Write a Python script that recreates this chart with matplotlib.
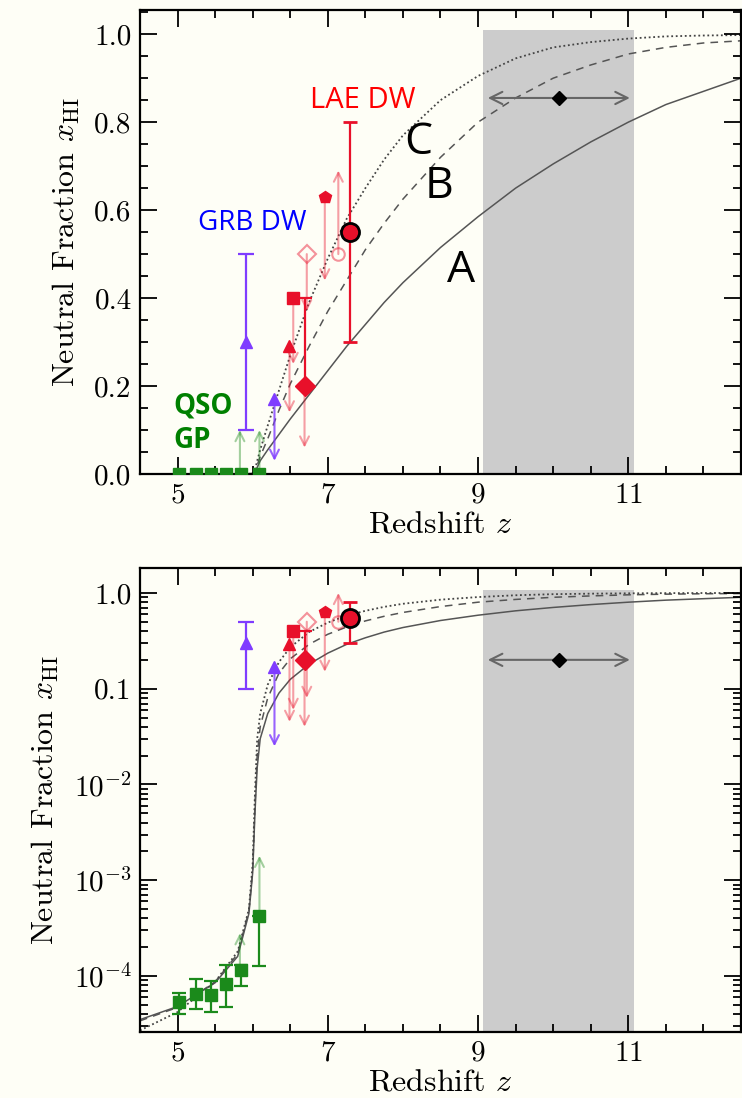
import matplotlib
matplotlib.use('Agg')
import matplotlib.pyplot as plt
from matplotlib.ticker import MultipleLocator, LogLocator, NullFormatter, FormatStrFormatter

plt.rcParams['font.family'] = 'serif'
plt.rcParams['font.serif'] = ['cmr10']
plt.rcParams['mathtext.fontset'] = 'cm'
plt.rcParams['axes.unicode_minus'] = False
plt.rcParams['axes.formatter.use_mathtext'] = True

# model curves A (solid), B (dashed), C (dotted)
z_model = [4.5, 5.0, 5.5, 5.8, 5.95, 6.0, 6.03, 6.06, 6.1, 6.2, 6.35, 6.5, 6.75, 7.0, 7.25,
           7.5, 7.75, 8.0, 8.5, 9.0, 9.5, 10.0, 10.5, 11.0, 11.5, 12.0, 12.5]
x_A = [3.5e-5, 4.8e-5, 8.5e-5, 1.6e-4, 4.5e-4, 1.2e-3, 5e-3, 0.015, 0.03, 0.055, 0.09, 0.125,
       0.18, 0.235, 0.29, 0.34, 0.39, 0.435, 0.515, 0.585, 0.65, 0.705, 0.755, 0.80, 0.84,
       0.87, 0.90]
x_B = [3.4e-5, 4.7e-5, 8.7e-5, 1.7e-4, 4.8e-4, 1.3e-3, 6e-3, 0.02, 0.04, 0.08, 0.145, 0.205,
       0.29, 0.37, 0.44, 0.51, 0.57, 0.625, 0.72, 0.80, 0.855, 0.90, 0.93, 0.955, 0.97,
       0.98, 0.985]
x_C = [2.7e-5, 4.2e-5, 8.7e-5, 1.8e-4, 5.0e-4, 1.5e-3, 8e-3, 0.03, 0.055, 0.11, 0.19, 0.27,
       0.39, 0.49, 0.58, 0.65, 0.715, 0.77, 0.85, 0.905, 0.945, 0.97, 0.982, 0.99, 0.995,
       0.997, 0.998]

# QSO Gunn-Peterson
qso_z = [5.02, 5.25, 5.44, 5.64, 5.85, 6.08]
qso_x = [5.3e-5, 6.5e-5, 6.4e-5, 8.3e-5, 1.16e-4, 4.2e-4]
qso_lo = [4.0e-5, 4.5e-5, 4.2e-5, 4.8e-5, 7.9e-5, 1.26e-4]
qso_hi = [6.7e-5, 9.2e-5, 8.9e-5, 1.3e-4, 1.3e-4, 4.2e-4]
qso_lim_z = [5.83, 6.09]
qso_lim_start = [[0.0, 0.0], [1.3e-4, 4.4e-4]]
qso_lim_end = [[0.10, 0.10], [2.8e-4, 1.8e-3]]

# GRB damping wing
grb_z = [5.91, 6.29]
grb_x = [0.30, 0.17]
grb_lo = 0.10
grb_hi = 0.50
grb_lim_end = [0.03, 0.025]

# LAE damping wing
lae_circ = (7.29, 0.55, 0.30, 0.80)
lae_filled_z = [6.69, 6.54, 6.49, 6.96]
lae_filled_x = [0.20, 0.40, 0.29, 0.63]
lae_filled_m = ['D', 's', '^', 'p']
lae_filled_end = [[0.06, 0.25, 0.14, 0.44], [0.04, 0.06, 0.045, 0.15]]
lae_diamond_up = 0.40
lae_open_z = [6.72, 7.14]
lae_open_x = [0.50, 0.50]
lae_open_m = ['D', 'o']
lae_open_end = [[0.37, 0.69], [0.08, 1.0]]

# high-z constraint
hz_z = 10.08
hz_x = [0.855, 0.2]
hz_range = (9.13, 11.02)
band = (9.07, 11.08)

log_ticks = [1.0, 0.1, 1e-2, 1e-3, 1e-4]
log_labels = ['1.0', '0.1', r'$10^{-2}$', r'$10^{-3}$', r'$10^{-4}$']

bg = '#fefef6'
red = '#e8102a'
purple = '#7f3cff'
green = '#1b8a1b'

fig = plt.figure(figsize=(7.42, 10.98), dpi=100, facecolor=bg)
ax1 = fig.add_axes([140/742, 1-474/1098, 601/742, 464/1098], facecolor=bg)
ax2 = fig.add_axes([140/742, 1-1032/1098, 601/742, 464/1098], facecolor=bg)


def arrow(ax, z, y0, y1, color, alpha=0.45, ms=16):
    ax.annotate('', xy=(z, y1), xytext=(z, y0),
                arrowprops=dict(arrowstyle='->', color=color, lw=1.5, alpha=alpha,
                                mutation_scale=ms, shrinkA=0, shrinkB=0))


for i, ax in enumerate([ax1, ax2]):
    top = 1.01 if i == 0 else 1.07
    bot = 0 if i == 0 else 1e-6
    ax.fill_between(band, [bot, bot], [top, top], color='#cccccc', lw=0, zorder=0)

    ax.plot(z_model, x_A, color='#555555', lw=1.1, ls='-', zorder=1)
    ax.plot(z_model, x_B, color='#555555', lw=1.1, ls=(0, (5, 4)), zorder=1)
    ax.plot(z_model, x_C, color='#444444', lw=1.3, ls=(0, (1, 1.5)), zorder=1)

    # QSO GP
    for k in range(2):
        arrow(ax, qso_lim_z[k], qso_lim_start[i][k], qso_lim_end[i][k], green, alpha=0.4)
    if i == 1:
        ax.errorbar(qso_z, qso_x,
                    yerr=[[v - l for v, l in zip(qso_x, qso_lo)],
                          [h - v for v, h in zip(qso_x, qso_hi)]],
                    fmt='s', color=green, ms=9, lw=1.6, capsize=5, capthick=1.6, zorder=4)
    else:
        ax.plot(qso_z, qso_x, 's', color=green, ms=9, zorder=4)

    # GRB DW
    ax.errorbar([grb_z[0]], [grb_x[0]], yerr=[[grb_x[0] - grb_lo], [grb_hi - grb_x[0]]],
                fmt='^', color=purple, ms=9, lw=1.6, capsize=5.5, capthick=1.6, zorder=4)
    arrow(ax, grb_z[1], grb_x[1], grb_lim_end[i], purple, alpha=0.8)
    ax.plot([grb_z[1]], [grb_x[1]], '^', color=purple, ms=9, zorder=4)

    # LAE DW
    for k in range(4):
        arrow(ax, lae_filled_z[k], lae_filled_x[k], lae_filled_end[i][k], red, alpha=0.4)
    for k in range(2):
        arrow(ax, lae_open_z[k], lae_open_x[k], lae_open_end[i][k], red, alpha=0.4)
        ax.plot([lae_open_z[k]], [lae_open_x[k]], lae_open_m[k], mfc='none', mec=red,
                mew=1.5, ms=9, alpha=0.45, zorder=3)
    ax.errorbar([lae_filled_z[0]], [lae_filled_x[0]],
                yerr=[[0], [lae_diamond_up - lae_filled_x[0]]],
                fmt='none', ecolor=red, lw=1.6, capsize=5, capthick=1.6, zorder=4)
    for k in range(4):
        ax.plot([lae_filled_z[k]], [lae_filled_x[k]], lae_filled_m[k], color=red,
                ms=10 if k == 0 else 9, zorder=5)
    cz, cx, clo, chi = lae_circ
    ax.errorbar([cz], [cx], yerr=[[cx - clo], [chi - cx]], fmt='o', color=red, mec='black',
                mew=2, ms=13, lw=1.6, capsize=5, capthick=1.6, ecolor=red, zorder=6)

    # high-z constraint
    ax.annotate('', xy=(hz_range[0], hz_x[i]), xytext=(hz_range[1], hz_x[i]),
                arrowprops=dict(arrowstyle='<->', color='#666666', lw=1.5,
                                mutation_scale=22, shrinkA=0, shrinkB=0))
    ax.plot([hz_z], [hz_x[i]], 'D', color='black', ms=7, zorder=5)

    ax.set_xlim(4.5, 12.5)
    ax.set_xticks([5, 7, 9, 11])
    ax.xaxis.set_minor_locator(MultipleLocator(0.5))
    ax.set_xlabel(r'Redshift $z$', fontsize=23, labelpad=2)
    ax.set_ylabel(r'Neutral Fraction $x_{\rm HI}$', fontsize=23, labelpad=9)
    ax.tick_params(which='both', direction='in', top=True, right=True,
                   labelsize=21, width=1.3, pad=6)
    ax.tick_params(which='major', length=12)
    ax.tick_params(which='minor', length=6)
    for s in ax.spines.values():
        s.set_linewidth(1.6)

ax1.set_ylim(0, 1.055)
ax1.yaxis.set_major_locator(MultipleLocator(0.2))
ax1.yaxis.set_minor_locator(MultipleLocator(0.05))
ax1.yaxis.set_major_formatter(FormatStrFormatter('%.1f'))

ax2.set_yscale('log')
ax2.set_ylim(2.6e-5, 1.82)
ax2.set_yticks(log_ticks)
ax2.set_yticklabels(log_labels)
ax2.yaxis.set_minor_locator(LogLocator(base=10, subs=range(2, 10)))
ax2.yaxis.set_minor_formatter(NullFormatter())

sans = ['Open Sans', 'DejaVu Sans']
ax1.text(7.47, 0.85, 'LAE DW', color='#ff0000', fontsize=21, family=sans, ha='center', va='center')
ax1.text(5.99, 0.57, 'GRB DW', color='#0000ff', fontsize=20, family=sans, ha='center', va='center')
ax1.text(5.34, 0.155, 'QSO', color='#008000', fontsize=20, family=sans, weight='bold', ha='center', va='center')
ax1.text(5.2, 0.077, 'GP', color='#008000', fontsize=20, family=sans, weight='bold', ha='center', va='center')
ax1.text(8.21, 0.753, 'C', color='black', fontsize=32, family=sans, ha='center', va='center')
ax1.text(8.48, 0.652, 'B', color='black', fontsize=32, family=sans, ha='center', va='center')
ax1.text(8.77, 0.462, 'A', color='black', fontsize=32, family=sans, ha='center', va='center')

plt.savefig('out.png', dpi=100, facecolor=bg)
